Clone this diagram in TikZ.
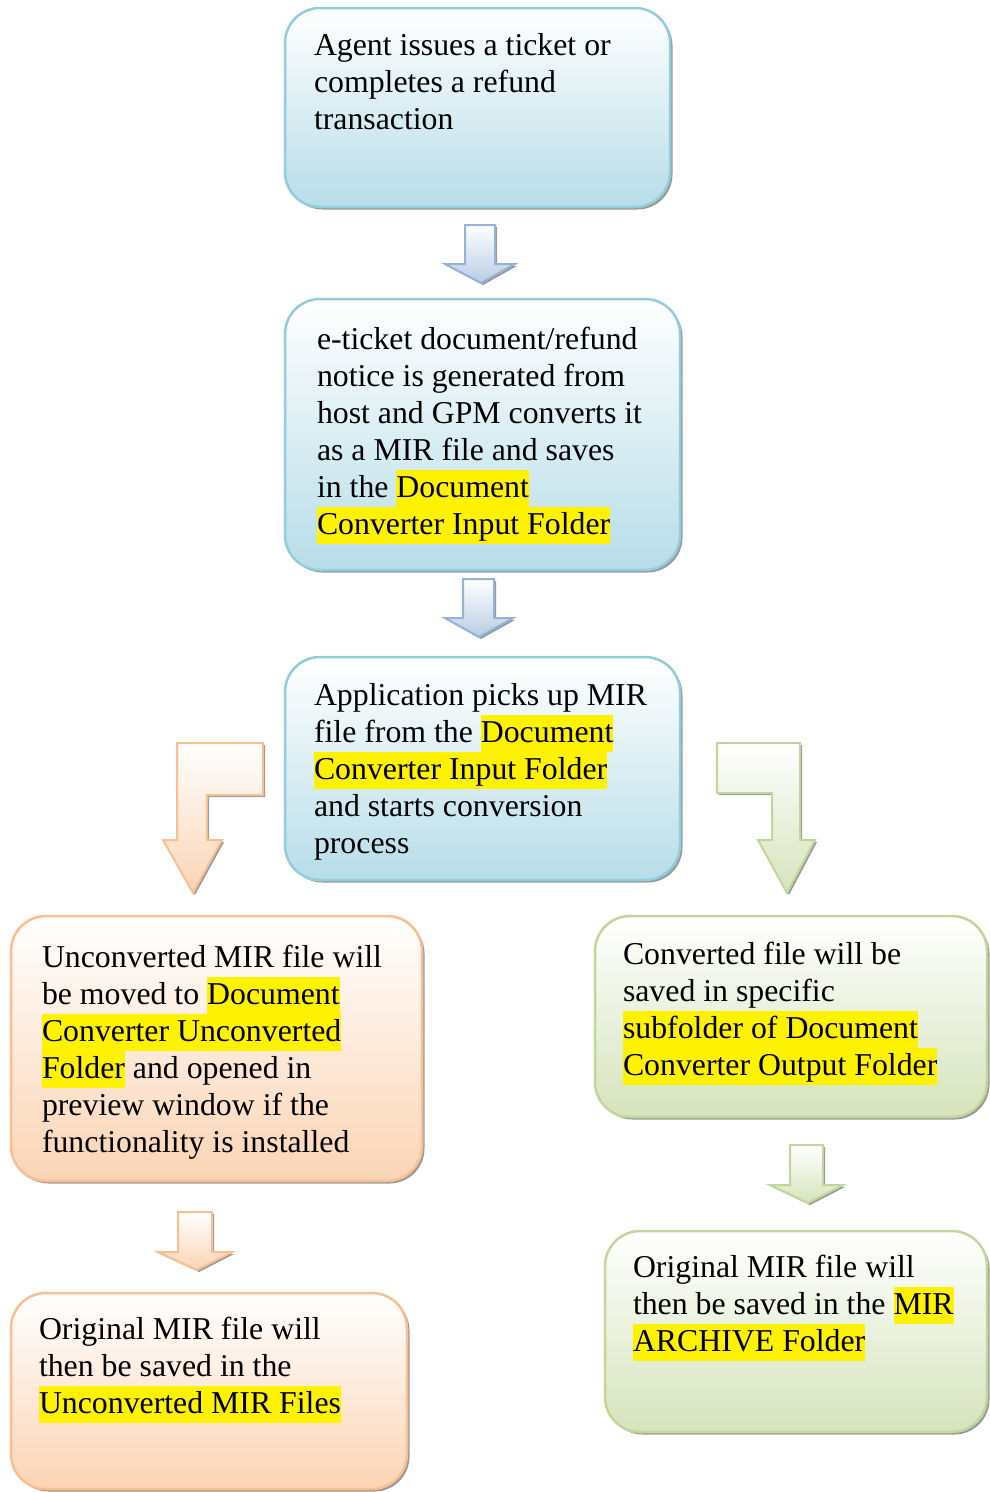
\documentclass[tikz,border=0pt]{standalone}
\usepackage{fontspec}
\setmainfont{Liberation Serif}
\usetikzlibrary{shadows}
\definecolor{bluebd}{RGB}{146,205,220}
\definecolor{bluefl}{RGB}{183,221,232}
\definecolor{orangebd}{RGB}{250,191,143}
\definecolor{orangefl}{RGB}{251,212,180}
\definecolor{greenbd}{RGB}{194,214,155}
\definecolor{greenfl}{RGB}{214,227,188}
\definecolor{arrbd}{RGB}{149,179,215}
\definecolor{arrfl}{RGB}{184,204,228}
\newcommand\hlt[1]{{\setlength{\fboxsep}{0pt}\colorbox{yellow}{\rule[-0.31em]{0pt}{1.15em}#1}}}
\tikzset{
  box/.style={rectangle, rounded corners=35pt, line width=2.5pt, inner sep=0pt, outer sep=0pt,
    drop shadow={shadow xshift=2.5pt, shadow yshift=-2.5pt, fill=black!40, opacity=1}},
  bluebox/.style={box, draw=bluebd, top color=white, bottom color=bluefl},
  orangebox/.style={box, draw=orangebd, top color=white, bottom color=orangefl},
  greenbox/.style={box, draw=greenbd, top color=white, bottom color=greenfl},
  txt/.style={anchor=north west, inner sep=0pt, outer sep=0pt, align=left, font=\fontsize{31.8}{37}\selectfont},
  barrow/.style={line width=2pt, line join=miter,
    drop shadow={shadow xshift=2pt, shadow yshift=-2pt, fill=black!40, opacity=1}},
  bluearrow/.style={barrow, draw=arrbd, top color=white, bottom color=arrfl},
  orangearrow/.style={barrow, draw=orangebd, top color=white, bottom color=orangefl},
  greenarrow/.style={barrow, draw=greenbd, top color=white, bottom color=greenfl},
}
\begin{document}
\begin{tikzpicture}[x=1pt,y=1pt]
\useasboundingbox (0,0) rectangle (990,-1492);
% boxes
\node[bluebox, minimum width=385pt, minimum height=199pt] (b1) at (477.5,-107.5) {};
\node[bluebox, minimum width=395pt, minimum height=271pt] (b2) at (482.5,-434.5) {};
\node[bluebox, minimum width=395pt, minimum height=223pt] (b3) at (482.5,-768.5) {};
\node[orangebox, minimum width=411pt, minimum height=265pt] (b4) at (216.5,-1048.5) {};
\node[greenbox, minimum width=392pt, minimum height=201pt] (b5) at (791,-1016.5) {};
\node[orangebox, minimum width=396pt, minimum height=196pt] (b6) at (209,-1391) {};
\node[greenbox, minimum width=382pt, minimum height=201pt] (b7) at (796,-1331.5) {};
% texts
\node[txt] (t1) at (314,-28.3) {\rule{0pt}{0.84em}Agent issues a ticket or\\completes a refund\\transaction};
\node[txt] (t2) at (317,-322.3) {\rule{0pt}{0.84em}e-ticket document/refund\\notice is generated from\\host and GPM converts it\\as a MIR file and saves\\in the \hlt{Document}\\\hlt{Converter Input Folder}};
\node[txt] (t3) at (314,-678.3) {\rule{0pt}{0.84em}Application picks up MIR\\file from the \hlt{Document}\\\hlt{Converter Input Folder}\\and starts conversion\\process};
\node[txt] (t4) at (42,-940.3) {\rule{0pt}{0.84em}Unconverted MIR file will\\be moved to \hlt{Document}\\\hlt{Converter Unconverted}\\\hlt{Folder} and opened in\\preview window if the\\functionality is installed};
\node[txt] (t5) at (623,-937.3) {\rule{0pt}{0.84em}Converted file will be\\saved in specific\\\hlt{subfolder of Document}\\\hlt{Converter Output Folder}};
\node[txt] (t6) at (39,-1312.3) {\rule{0pt}{0.84em}Original MIR file will\\then be saved in the\\\hlt{Unconverted MIR Files}};
\node[txt] (t7) at (633,-1250.3) {\rule{0pt}{0.84em}Original MIR file will\\then be saved in the \hlt{MIR}\\\hlt{ARCHIVE Folder}};
% block arrows
\draw[bluearrow] (465,-225) -- (495,-225) -- (495,-264) -- (515,-264) -- (481,-283) -- (445,-264) -- (465,-264) -- cycle;
\draw[bluearrow] (463,-579) -- (494,-579) -- (494,-618) -- (513,-618) -- (479,-637) -- (445,-618) -- (463,-618) -- cycle;
\draw[orangearrow] (177,-743) -- (263,-743) -- (263,-795) -- (207,-795) -- (207,-840) -- (222,-840) -- (193,-893) -- (163,-840) -- (177,-840) -- cycle;
\draw[greenarrow] (717,-743) -- (800,-743) -- (800,-840) -- (815,-840) -- (787,-893) -- (758,-840) -- (772,-840) -- (772,-793) -- (717,-793) -- cycle;
\draw[orangearrow] (178,-1212) -- (212,-1212) -- (212,-1252) -- (232,-1252) -- (197,-1270) -- (158,-1252) -- (178,-1252) -- cycle;
\draw[greenarrow] (790,-1145) -- (823,-1145) -- (823,-1185) -- (843,-1185) -- (808,-1203) -- (770,-1185) -- (790,-1185) -- cycle;
\end{tikzpicture}
\end{document}
